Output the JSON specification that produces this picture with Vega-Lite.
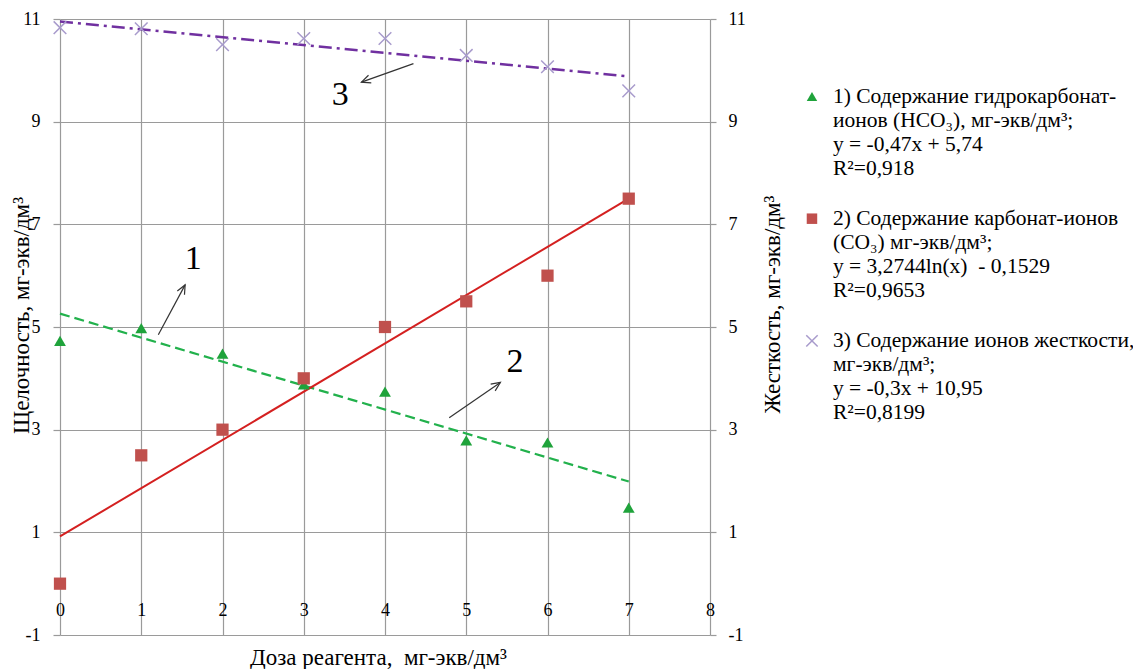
{
  "$schema": "https://vega.github.io/schema/vega-lite/v6.json",
  "width": 650,
  "height": 616,
  "autosize": "none",
  "padding": {"left": 60, "top": 19, "right": 423, "bottom": 34},
  "background": "white",
  "config": {
    "view": {"stroke": null},
    "font": "Liberation Serif, Times New Roman, serif",
    "axis": {"labelFont": "Liberation Serif, Times New Roman, serif", "titleFont": "Liberation Serif, Times New Roman, serif", "labelColor": "#000", "titleColor": "#000", "titleFontWeight": "normal", "labelOverlap": false, "labelFlush": false, "labelExpr": "'' + datum.value"}
  },
  "datasets": {
    "points": [
      {"series": 1, "dose": 0, "value": 4.73}, {"series": 1, "dose": 1, "value": 4.98}, {"series": 1, "dose": 2, "value": 4.48}, {"series": 1, "dose": 3, "value": 3.88},
      {"series": 1, "dose": 4, "value": 3.74}, {"series": 1, "dose": 5, "value": 2.79}, {"series": 1, "dose": 6, "value": 2.75}, {"series": 1, "dose": 7, "value": 1.48},
      {"series": 2, "dose": 0, "value": 0}, {"series": 2, "dose": 1, "value": 2.5}, {"series": 2, "dose": 2, "value": 3}, {"series": 2, "dose": 3, "value": 4},
      {"series": 2, "dose": 4, "value": 5}, {"series": 2, "dose": 5, "value": 5.5}, {"series": 2, "dose": 6, "value": 6}, {"series": 2, "dose": 7, "value": 7.5},
      {"series": 3, "dose": 0, "value": 10.83}, {"series": 3, "dose": 1, "value": 10.81}, {"series": 3, "dose": 2, "value": 10.5}, {"series": 3, "dose": 3, "value": 10.62},
      {"series": 3, "dose": 4, "value": 10.62}, {"series": 3, "dose": 5, "value": 10.29}, {"series": 3, "dose": 6, "value": 10.07}, {"series": 3, "dose": 7, "value": 9.6}
    ],
    "trends": [
      {"series": 1, "dose": 0, "value": 5.26}, {"series": 1, "dose": 7, "value": 1.99},
      {"series": 2, "dose": 0, "value": 0.92}, {"series": 2, "dose": 7, "value": 7.5},
      {"series": 3, "dose": 0, "value": 10.95}, {"series": 3, "dose": 7, "value": 9.88}
    ],
    "arrows": [
      {"id": 1, "dose": 1.21, "value": 4.85, "dose2": 1.54, "value2": 5.82},
      {"id": 2, "dose": 4.79, "value": 3.23, "dose2": 5.42, "value2": 3.92},
      {"id": 3, "dose": 4.35, "value": 10.13, "dose2": 3.71, "value2": 9.77}
    ],
    "heads": [
      {"id": 1, "dose": 1.54, "value": 5.82},
      {"id": 2, "dose": 5.42, "value": 3.92},
      {"id": 3, "dose": 3.71, "value": 9.77}
    ],
    "labels": [
      {"label": "1", "dose": 1.64, "value": 6.32},
      {"label": "2", "dose": 5.6, "value": 4.31},
      {"label": "3", "dose": 3.45, "value": 9.51}
    ],
    "legend": [
      {"series": 1, "dose": 9.255, "value": 9.49, "text": "1) Содержание гидрокарбонат-\nионов (HCO₃), мг-экв/дм³;\ny = -0,47x + 5,74\nR²=0,918"},
      {"series": 2, "dose": 9.255, "value": 7.11, "text": "2) Содержание карбонат-ионов\n(CO₃) мг-экв/дм³;\ny = 3,2744ln(x)\u00a0 - 0,1529\nR²=0,9653"},
      {"series": 3, "dose": 9.255, "value": 4.73, "text": "3) Содержание ионов жесткости,\nмг-экв/дм³;\ny = -0,3x + 10,95\nR²=0,8199"}
    ]
  },
  "encoding": {
    "x": {
      "field": "dose", "type": "quantitative",
      "scale": {"domain": [0, 8], "nice": false, "zero": false},
      "axis": {
        "title": "Доза реагента,\u00a0 мг-экв/дм³",
        "values": [0, 1, 2, 3, 4, 5, 6, 7, 8],
        "grid": true, "gridColor": "#9a9a9a", "gridWidth": 1.2,
        "domain": false, "ticks": false, "tickSize": 0,
        "labelPadding": -25, "labelBaseline": "middle", "labelFontSize": 18, "labelAngle": 0,
        "titleFontSize": 23, "titleX": 318, "titleY": 22, "titleBaseline": "middle", "titleAlign": "center"
      }
    }
  },
  "layer": [
    {
      "encoding": {
        "y": {
          "field": "value", "type": "quantitative",
          "scale": {"domain": [-1, 11], "nice": false, "zero": false},
          "axis": {
            "orient": "left",
            "title": "Щелочность, мг-экв/дм³",
            "values": [-1, 1, 3, 5, 7, 9, 11],
            "grid": true, "gridColor": "#9a9a9a", "gridWidth": 1.2,
            "domain": false, "ticks": true, "tickSize": 7, "tickColor": "#9a9a9a", "tickWidth": 1.2,
            "labelPadding": 13, "labelFontSize": 18,
            "titleFontSize": 23, "titleAngle": 270, "titleX": -39, "titleY": 296, "titleBaseline": "middle", "titleAlign": "center"
          }
        }
      },
      "layer": [
        {
          "data": {"values": [{}]},
          "mark": {"type": "rule", "color": "#9a9a9a", "strokeWidth": 1.2},
          "encoding": {"x": {"datum": 0, "type": "quantitative"}, "x2": {"datum": 8}, "y": {"datum": 0, "type": "quantitative"}}
        },
        {
          "data": {"name": "trends"},
          "transform": [{"filter": "datum.series === 1"}],
          "mark": {"type": "line", "color": "#22b14c", "strokeWidth": 2.2, "strokeDash": [10, 5]},
          "encoding": {}
        },
        {
          "data": {"name": "trends"},
          "transform": [{"filter": "datum.series === 2"}],
          "mark": {"type": "line", "color": "#d42020", "strokeWidth": 2},
          "encoding": {}
        },
        {
          "data": {"name": "points"},
          "transform": [{"filter": "datum.series === 1"}],
          "mark": {"type": "point", "shape": "triangle-up", "filled": true, "color": "#1fa33b", "opacity": 1, "size": 140},
          "encoding": {}
        },
        {
          "data": {"name": "points"},
          "transform": [{"filter": "datum.series === 2"}],
          "mark": {"type": "point", "shape": "square", "filled": true, "color": "#c0504d", "opacity": 1, "size": 150},
          "encoding": {}
        },
        {
          "data": {"name": "arrows"},
          "mark": {"type": "rule", "color": "#333333", "strokeWidth": 1.2},
          "encoding": {"x2": {"field": "dose2"}, "y2": {"field": "value2"}}
        },
        {
          "data": {"name": "heads"},
          "transform": [{"filter": "datum.id === 1"}],
          "mark": {"type": "point", "shape": "M-0.45,1L0,0L0.45,1", "filled": false, "color": "#333333", "strokeWidth": 1.2, "opacity": 1, "size": 324, "angle": 28},
          "encoding": {}
        },
        {
          "data": {"name": "heads"},
          "transform": [{"filter": "datum.id === 2"}],
          "mark": {"type": "point", "shape": "M-0.45,1L0,0L0.45,1", "filled": false, "color": "#333333", "strokeWidth": 1.2, "opacity": 1, "size": 324, "angle": 56},
          "encoding": {}
        },
        {
          "data": {"name": "heads"},
          "transform": [{"filter": "datum.id === 3"}],
          "mark": {"type": "point", "shape": "M-0.45,1L0,0L0.45,1", "filled": false, "color": "#333333", "strokeWidth": 1.2, "opacity": 1, "size": 324, "angle": 250},
          "encoding": {}
        },
        {
          "data": {"name": "labels"},
          "mark": {"type": "text", "font": "Liberation Serif, Times New Roman, serif", "fontSize": 34, "align": "center", "baseline": "middle", "color": "#000"},
          "encoding": {"text": {"field": "label", "type": "nominal"}}
        },
        {
          "data": {"name": "legend"},
          "mark": {"type": "text", "font": "Liberation Serif, Times New Roman, serif", "fontSize": 21.5, "align": "left", "baseline": "middle", "dx": 21, "lineBreak": "\n", "lineHeight": 24, "color": "#000"},
          "encoding": {"text": {"field": "text", "type": "nominal"}}
        },
        {
          "data": {"name": "legend"},
          "transform": [{"filter": "datum.series === 1"}],
          "mark": {"type": "point", "shape": "triangle-up", "filled": true, "color": "#1fa33b", "opacity": 1, "size": 110},
          "encoding": {}
        },
        {
          "data": {"name": "legend"},
          "transform": [{"filter": "datum.series === 2"}],
          "mark": {"type": "point", "shape": "square", "filled": true, "color": "#c0504d", "opacity": 1, "size": 110},
          "encoding": {}
        },
        {
          "data": {"name": "legend"},
          "transform": [{"filter": "datum.series === 3"}],
          "mark": {"type": "point", "shape": "M-1,-1L1,1M-1,1L1,-1", "filled": false, "color": "#a89bcc", "strokeWidth": 1.5, "opacity": 1, "size": 130},
          "encoding": {}
        }
      ]
    },
    {
      "encoding": {
        "y": {
          "field": "value", "type": "quantitative",
          "scale": {"domain": [-1, 11], "nice": false, "zero": false},
          "axis": {
            "orient": "right",
            "title": "Жесткость, мг-экв/дм³",
            "values": [-1, 1, 3, 5, 7, 9, 11],
            "grid": false,
            "domain": false, "ticks": true, "tickSize": 6, "tickColor": "#9a9a9a", "tickWidth": 1.2,
            "labelPadding": 12, "labelFontSize": 18,
            "titleFontSize": 23, "titleAngle": 270, "titleX": 62, "titleY": 285, "titleBaseline": "middle", "titleAlign": "center"
          }
        }
      },
      "layer": [
        {
          "data": {"name": "trends"},
          "transform": [{"filter": "datum.series === 3"}],
          "mark": {"type": "line", "color": "#7030a0", "strokeWidth": 2.5, "strokeDash": [13, 5, 3, 5]},
          "encoding": {}
        },
        {
          "data": {"name": "points"},
          "transform": [{"filter": "datum.series === 3"}],
          "mark": {"type": "point", "shape": "M-1,-1L1,1M-1,1L1,-1", "filled": false, "color": "#a89bcc", "strokeWidth": 1.5, "opacity": 1, "size": 160},
          "encoding": {}
        }
      ]
    }
  ],
  "resolve": {"scale": {"y": "independent"}}
}
